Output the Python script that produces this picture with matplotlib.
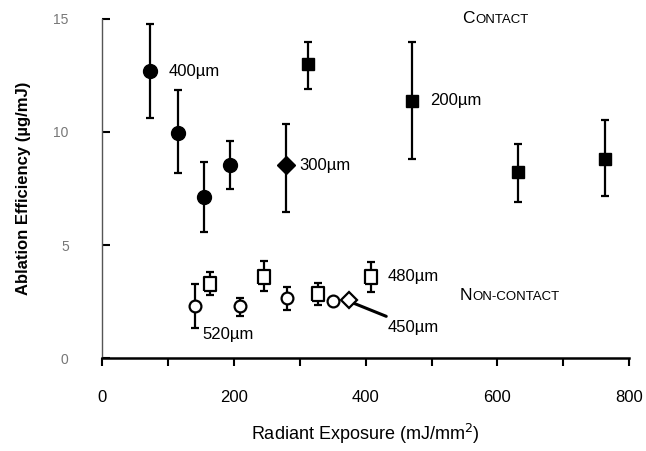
import matplotlib.pyplot as plt
from matplotlib.ticker import MultipleLocator

plt.rcParams['font.family'] = ['Liberation Sans', 'DejaVu Sans']

# contact, 400um fiber (filled circles)
c400_x = [73, 115, 155, 194]
c400_y = [12.68, 9.97, 7.14, 8.54]
c400_lo = [2.07, 1.77, 1.57, 1.08]
c400_hi = [2.11, 1.87, 1.53, 1.08]

# contact, 300um fiber (filled diamond)
c300_x = [279]
c300_y = [8.54]
c300_lo = [2.08]
c300_hi = [1.82]

# contact, 200um fiber (filled squares)
c200_x = [313, 471, 631, 764]
c200_y = [13.0, 11.39, 8.24, 8.81]
c200_lo = [1.09, 2.6, 1.35, 1.64]
c200_hi = [0.96, 2.61, 1.23, 1.73]

# non-contact, 520um (open circles)
n520_x = [141, 209, 280, 351]
n520_y = [2.29, 2.29, 2.66, 2.53]
n520_lo = [0.96, 0.44, 0.55, 0.0]
n520_hi = [0.98, 0.36, 0.49, 0.0]

# non-contact, 480um (open squares)
n480_x = [164, 246, 327, 408]
n480_y = [3.27, 3.59, 2.85, 3.59]
n480_lo = [0.46, 0.62, 0.48, 0.66]
n480_hi = [0.53, 0.71, 0.47, 0.67]

# non-contact, 450um (open diamond)
n450_x = [374]
n450_y = [2.56]

# open squares in the scan are a bit taller than wide
tall_box = [(-0.42, -0.5), (0.42, -0.5), (0.42, 0.5), (-0.42, 0.5), (-0.42, -0.5)]

fig = plt.figure(figsize=(6.46, 4.51), dpi=100)
ax = fig.add_axes([0.158, 0.206, 0.816, 0.752])

eb = dict(color='black', ecolor='black', elinewidth=1.6, capsize=2.8,
          capthick=1.6, linestyle='none', zorder=3)

ax.errorbar(c400_x, c400_y, yerr=[c400_lo, c400_hi], fmt='o', ms=10, **eb)
ax.errorbar(c300_x, c300_y, yerr=[c300_lo, c300_hi], fmt='D', ms=9, **eb)
ax.errorbar(c200_x, c200_y, yerr=[c200_lo, c200_hi], fmt='s', ms=9, **eb)
ax.errorbar(n520_x, n520_y, yerr=[n520_lo, n520_hi], fmt='o', ms=8.5,
            mfc='white', mew=1.6, **eb)
ax.errorbar(n480_x, n480_y, yerr=[n480_lo, n480_hi], marker=tall_box, ms=9.5,
            mfc='white', mew=1.6, **eb)
ax.plot(n450_x, n450_y, 'D', ms=8.5, mfc='white', mec='black', mew=1.6,
        linestyle='none', zorder=4)

lbl = dict(fontsize=12, va='center', ha='left')
ax.text(101, 12.68, '400µm', **lbl)
ax.text(300, 8.54, '300µm', **lbl)
ax.text(498, 11.4, '200µm', **lbl)
ax.text(434, 3.6, '480µm', **lbl)
ax.text(153, 1.05, '520µm', **lbl)
ax.annotate('450µm', xy=(380, 2.45), xytext=(433, 1.37), fontsize=12,
            va='center', ha='left',
            arrowprops=dict(arrowstyle='-', lw=2.2, color='black',
                            shrinkA=1, shrinkB=0))

# small caps headings
t1 = ax.text(547, 15.0, 'C', fontsize=12.5, va='center', ha='left')
ax.annotate('ONTACT', xy=(1, 0), xycoords=t1, fontsize=9.5,
            va='bottom', ha='left')
t2 = ax.text(543, 2.78, 'N', fontsize=12.5, va='center', ha='left')
ax.annotate('ON-CONTACT', xy=(1, 0), xycoords=t2, fontsize=9.5,
            va='bottom', ha='left')

ax.set_xlim(0, 800)
ax.set_ylim(0, 15)
ax.xaxis.set_major_locator(MultipleLocator(200))
ax.xaxis.set_minor_locator(MultipleLocator(100))
ax.yaxis.set_major_locator(MultipleLocator(5))

ax.spines['top'].set_visible(False)
ax.spines['right'].set_visible(False)
ax.spines['bottom'].set_linewidth(1.8)
ax.spines['left'].set_linewidth(1.0)
ax.spines['left'].set_color('#555555')

ax.tick_params(axis='x', which='both', direction='out', length=6, width=1.5,
               pad=17, labelsize=12)
ax.tick_params(axis='y', direction='in', length=6, width=1.5, pad=24,
               labelsize=10, labelcolor='#777777')

ax.set_xlabel('Radiant Exposure (mJ/mm$^2$)', fontsize=13, labelpad=12)
ax.set_ylabel('Ablation Efficiency (µg/mJ)', fontsize=12,
              fontweight='bold', labelpad=16)

fig.savefig('out.png', dpi=100)
